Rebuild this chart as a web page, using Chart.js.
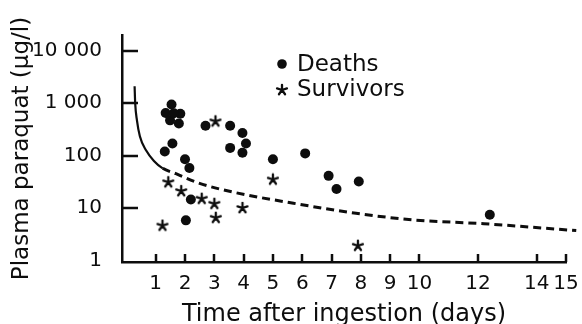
<!DOCTYPE html>
<html>
<head>
<meta charset="utf-8">
<script src="https://cdn.jsdelivr.net/npm/chart.js@4.4.1/dist/chart.umd.min.js"></script>
<style>
  html, body { margin: 0; padding: 0; background: #fff; }
  #wrap { width: 582px; height: 324px; }
</style>
</head>
<body>
<div id="wrap"><canvas id="paraquat" width="582" height="324"></canvas></div>
<script>
// deaths
const deathDays = [1.34, 1.54, 1.84, 1.79, 1.49, 1.62, 1.57, 1.31, 2.0, 2.15, 2.2, 2.03,
  2.7, 3.54, 3.96, 4.08, 3.54, 3.96, 5.0, 6.1, 6.9, 7.17, 7.93, 12.4];
const deathValues = [650, 940, 630, 410, 470, 640, 170, 120, 85, 58, 14.5, 5.8,
  370, 370, 270, 170, 140, 113, 85, 110, 41, 23, 32, 7.4];

// survivors
const survivorDays = [1.43, 1.87, 2.57, 3.0, 3.05, 3.96, 1.23, 3.04, 5.0, 7.9];
const survivorValues = [31, 21, 15, 12, 6.5, 10, 4.6, 450, 35, 1.9];

// prognosis line (solid part then dashed)
const curveDays = [0.28, 0.30, 0.36, 0.46, 0.67, 0.94, 1.24, 1.69, 2.46, 3.65, 5.7, 7.77, 9.8, 12.2, 15.35];
const curveValues = [2100, 1000, 470, 233, 126, 79, 57, 45, 30, 20, 12.3, 8.0, 5.9, 5.0, 3.7];
const dashFrom = 1.24;

const xTicks = [1, 2, 3, 4, 5, 6, 7, 8, 9, 10, 12, 14, 15];
const yTicks = [1, 10, 100, 1000, 10000];
const yTickLabels = ["1", "10", "100", "1 000", "10 000"];

const ink = "#0d0d0d";
Chart.defaults.font.family = "'DejaVu Sans', sans-serif";
Chart.defaults.color = ink;

// five armed asterisk used for survivors
const star = document.createElement("canvas");
star.width = 14;
star.height = 14;
(function () {
  const c = star.getContext("2d");
  c.strokeStyle = ink;
  c.lineWidth = 2.3;
  c.lineCap = "round";
  c.beginPath();
  for (let k = 0; k < 5; k++) {
    const a = -Math.PI / 2 + (k * 2 * Math.PI) / 5;
    c.moveTo(7, 7);
    c.lineTo(7 + 5.2 * Math.cos(a), 7 + 5.2 * Math.sin(a));
  }
  c.stroke();
})();

const toPoints = (xs, ys) => xs.map((d, i) => ({ x: d, y: ys[i] }));

//TICK MARKS POINTING INTO THE PLOT
const inwardTicks = {
  id: "inwardTicks",
  afterDatasetsDraw(chart) {
    const { ctx, scales: { x, y } } = chart;
    ctx.save();
    ctx.strokeStyle = ink;
    ctx.lineWidth = 2.5;
    ctx.beginPath();
    yTicks.slice(1).forEach((v) => {
      const py = Math.round(y.getPixelForValue(v));
      ctx.moveTo(x.left, py);
      ctx.lineTo(x.left + 16, py);
    });
    xTicks.forEach((v) => {
      const px = Math.round(x.getPixelForValue(v));
      ctx.moveTo(px, y.bottom);
      ctx.lineTo(px, y.bottom - 8);
    });
    ctx.stroke();
    ctx.restore();
  },
};

//LEGEND INSIDE THE PLOT
const cornerLegend = {
  id: "cornerLegend",
  afterDraw(chart) {
    const ctx = chart.ctx;
    const sets = chart.data.datasets;
    ctx.save();
    ctx.fillStyle = ink;
    ctx.font = "23px 'DejaVu Sans'";
    ctx.textBaseline = "middle";
    ctx.beginPath();
    ctx.arc(282, 64, 4.8, 0, Math.PI * 2);
    ctx.fill();
    ctx.fillText(sets[0].label, 297, 65);
    ctx.drawImage(star, 282 - 7, 90 - 7);
    ctx.fillText(sets[1].label, 297, 90);
    ctx.restore();
  },
};

new Chart(document.getElementById("paraquat"), {
  type: "scatter",
  data: {
    datasets: [
      {
        label: "Deaths",
        data: toPoints(deathDays, deathValues),
        pointStyle: "circle",
        pointRadius: 5,
        backgroundColor: ink,
        borderColor: ink,
        borderWidth: 0,
      },
      {
        label: "Survivors",
        data: toPoints(survivorDays, survivorValues),
        pointStyle: star,
      },
      {
        label: "Prognosis",
        data: toPoints(curveDays, curveValues),
        showLine: true,
        pointRadius: 0,
        borderColor: ink,
        borderWidth: 2.6,
        cubicInterpolationMode: "monotone",
        clip: false,
        segment: {
          borderDash: (c) => (c.p0.parsed.x >= dashFrom ? [8, 5] : undefined),
          borderWidth: (c) => (c.p0.parsed.x >= dashFrom ? 3 : 2.2),
        },
      },
    ],
  },
  options: {
    responsive: false,
    animation: false,
    devicePixelRatio: 1,
    layout: { padding: { top: 35, right: 16, left: 0, bottom: 0 } },
    plugins: { legend: { display: false }, tooltip: { enabled: false } },
    scales: {
      x: {
        type: "linear",
        min: -0.15,
        max: 15,
        afterBuildTicks: (s) => { s.ticks = xTicks.map((v) => ({ value: v })); },
        afterFit: (s) => { s.height = 62; },
        grid: { display: false },
        border: { display: true, color: ink, width: 2.5 },
        ticks: { autoSkip: false, maxRotation: 0, padding: 2, font: { size: 20 }, color: ink },
        title: {
          display: true,
          text: "Time after ingestion (days)",
          font: { size: 24, lineHeight: 0.8 },
          padding: { top: 0, bottom: 0 },
          color: ink,
        },
      },
      y: {
        type: "logarithmic",
        min: 0.93,
        max: 20000,
        afterBuildTicks: (s) => { s.ticks = yTicks.map((v) => ({ value: v })); },
        afterFit: (s) => { s.width = 122; },
        grid: { display: false },
        border: { display: true, color: ink, width: 2.5 },
        ticks: {
          padding: 12,
          font: { size: 20 },
          color: ink,
          callback: (v) => yTickLabels[yTicks.indexOf(v)],
        },
        title: {
          display: true,
          text: "Plasma paraquat (µg/l)",
          font: { size: 23 },
          padding: { top: 8, bottom: 0 },
          color: ink,
        },
      },
    },
  },
  plugins: [inwardTicks, cornerLegend],
});
</script>
</body>
</html>
